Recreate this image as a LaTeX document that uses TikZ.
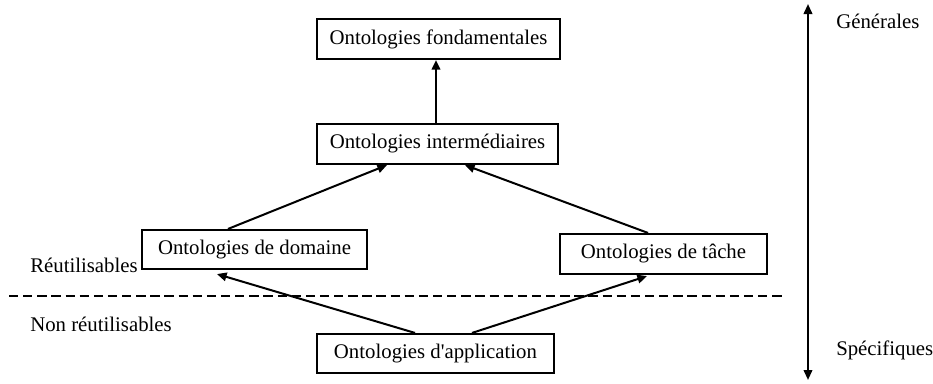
\documentclass[tikz,border=0pt]{standalone}
\usepackage{fontspec}
\setmainfont{Liberation Serif}[Ligatures=TeXOff]
\usetikzlibrary{arrows.meta,calc}
\begin{document}
\begin{tikzpicture}[x=0.75pt,y=-0.75pt,
  every node/.style={font=\fontsize{15.6}{18}\selectfont},
  onto/.style={draw,line width=1.6pt,inner sep=0pt,align=center},
  arr/.style={line width=1.5pt,-{Triangle[length=7.2pt,width=6.4pt]}},
  lbl/.style={inner sep=0pt,anchor=base west}]
\useasboundingbox (0,0) rectangle (933,383);
% levels of the hierarchy
\node[onto,minimum width=243*0.75pt,minimum height=40*0.75pt] (fond) at (438.5,39) {Ontologies fondamentales};
\node[onto,minimum width=241*0.75pt,minimum height=40*0.75pt] (inter) at (437.5,144) {Ontologies intermédiaires};
\node[onto,minimum width=225*0.75pt,minimum height=39*0.75pt] (dom) at (254.5,249.5) {Ontologies de domaine};
\node[onto,minimum width=207*0.75pt,minimum height=40*0.75pt] (tache) at (663.5,254) {Ontologies de tâche};
\node[onto,minimum width=237*0.75pt,minimum height=39*0.75pt] (app) at (435.5,353.5) {Ontologies d'application};
% specialisation links
\draw[arr] (inter.north -| 436,0) -- (fond.south -| 436,0);
\draw[arr] ($(dom.north)+(-26.5,0)$) -- ($(inter.south)+(-50.5,0)$);
\draw[arr] ($(tache.north)+(-15.5,0)$) -- ($(inter.south)+(27.5,0)$);
\draw[arr] ($(app.north)+(-20.5,0)$) -- ($(dom.south)+(-37.5,4)$);
\draw[arr] ($(app.north)+(36.5,0)$) -- ($(tache.south)+(-16.5,1)$);
% reusability boundary
\coordinate (dl) at (9,295.5);
\coordinate (dr) at (782,295.5);
\draw[line width=1.5pt,dash pattern=on 7pt off 3.6pt] (dl) -- (dr);
\node[lbl] (reu) at (30,272) {Réutilisables};
\node[lbl] (nreu) at (30,331) {Non réutilisables};
% generality axis
\coordinate (top) at (808,4);
\coordinate (bot) at (808,380);
\draw[line width=1.5pt,{Triangle[length=7.5pt,width=6.4pt]}-{Triangle[length=7.5pt,width=6.4pt]}] (top) -- (bot);
\node[lbl] (gen) at (836,28) {Générales};
\node[lbl] (spec) at (836,355) {Spécifiques};
\end{tikzpicture}
\end{document}
